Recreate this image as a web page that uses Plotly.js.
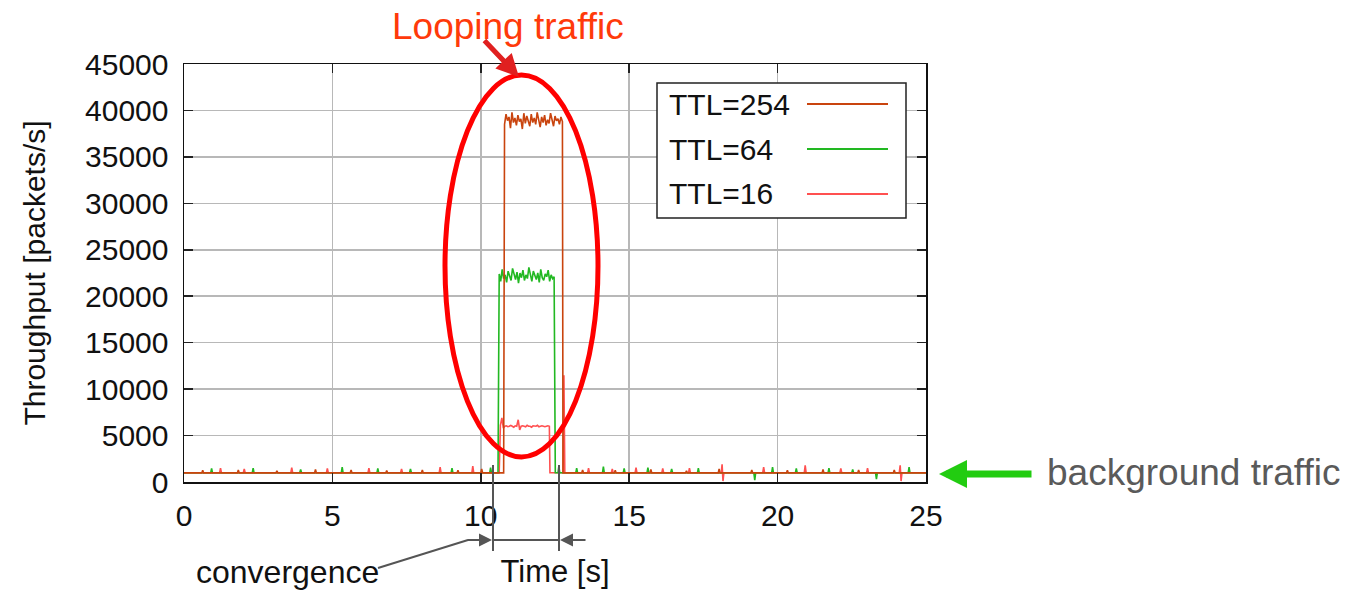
<!DOCTYPE html>
<html>
<head>
<meta charset="utf-8">
<script src="https://cdn.plot.ly/plotly-3.0.1.min.js"></script>
<style>html,body{margin:0;padding:0;background:#fff;}#chart{width:1353px;height:590px;}</style>
</head>
<body>
<div id="chart"></div>
<script>
// ---- data ----
const seriesNames = ['TTL=16', 'TTL=64', 'TTL=254'];
const seriesColors = ['#ff5050', '#22b822', '#c9440e'];

const t254 = [0,0.6,0.63,0.66,1.8,1.83,1.86,3.1,3.13,3.16,4.4,4.43,4.46,5.6,5.63,5.66,6.8,6.83,6.86,8.0,8.03,8.06,9.2,9.23,9.26,10.0,10.03,10.06,10.77,
  10.80,10.85,10.90,10.95,11.00,11.05,11.10,11.15,11.20,11.25,11.30,11.35,11.40,11.45,11.50,11.55,11.60,11.65,11.70,11.75,11.80,11.85,11.90,11.95,12.00,12.05,12.10,12.15,12.20,12.25,12.30,12.35,12.40,12.45,12.50,12.55,12.60,12.65,12.70,12.75,
  12.77,13.4,13.43,13.46,14.5,14.53,14.56,15.7,15.73,15.76,16.9,16.93,16.96,18.0,18.03,18.06,19.1,19.13,19.16,20.3,20.33,20.36,21.5,21.53,21.56,22.7,22.73,22.76,23.9,23.93,23.96,25];
const v254 = [980,980,1250,980,980,1300,980,980,1200,980,980,1350,980,980,1280,980,980,1220,980,980,1300,980,980,1260,980,980,1400,980,980,
  38500,39600,38900,39300,38100,39800,38700,39200,38400,39500,38800,39100,38000,39700,38600,39400,38900,38300,39600,38700,39200,38500,39800,38900,38200,39300,38700,39500,38400,39000,38600,39700,38800,38300,39400,38900,39100,38500,39300,38800,
  980,980,1300,980,980,1250,980,980,1350,980,980,1200,980,980,1400,980,980,1300,980,980,1250,980,980,1350,980,980,1300,980,980,1280,980,980];

const t64 = [0,0.9,0.93,0.96,2.3,2.33,2.36,3.9,3.93,3.96,5.3,5.33,5.36,6.5,6.53,6.56,7.6,7.63,7.66,9.0,9.03,9.06,10.3,10.33,10.36,10.58,
  10.62,10.67,10.72,10.77,10.82,10.87,10.92,10.97,11.02,11.07,11.12,11.17,11.22,11.27,11.32,11.37,11.42,11.47,11.52,11.57,11.62,11.67,11.72,11.77,11.82,11.87,11.92,11.97,12.02,12.07,12.12,12.17,12.22,12.27,12.32,12.37,12.42,12.47,
  12.51,12.6,12.63,12.66,13.2,13.23,13.26,14.1,14.13,14.16,14.8,14.83,14.86,15.6,15.63,15.66,16.4,16.43,16.46,17.3,17.33,17.36,19.2,19.23,19.26,19.8,19.83,19.86,20.6,20.63,20.66,21.7,21.73,21.76,22.5,22.53,22.56,23.3,23.33,23.36,24.4,24.43,24.46,25];
const v64 = [990,990,1450,990,990,1500,990,990,1350,990,990,1600,990,990,1450,990,990,1400,990,990,1500,990,990,1550,990,990,
  22400,21600,22900,21900,22300,21500,22700,22100,21700,23000,22200,21800,22600,21400,22500,22000,22800,21700,22300,21900,23100,22100,21600,22700,22200,21800,22500,21500,22900,22000,21700,22400,22100,22800,21600,22300,21900,22100,
  990,990,1700,990,990,1500,990,990,1650,990,990,1450,990,990,1550,990,990,1400,990,990,1500,990,990,200,990,990,1600,990,990,1450,990,990,1500,990,990,1350,990,990,300,990,990,1600,990,990];

const t16 = [0,1.2,1.23,1.26,2.0,2.03,2.06,3.6,3.63,3.66,4.8,4.83,4.86,6.2,6.23,6.26,7.3,7.33,7.36,8.6,8.63,8.66,9.7,9.73,9.76,10.62,
  10.66,10.71,10.76,10.81,10.86,10.91,10.96,11.01,11.06,11.11,11.16,11.21,11.26,11.31,11.36,11.41,11.46,11.51,11.56,11.61,11.66,11.71,11.76,11.81,11.86,11.91,11.96,12.01,12.06,12.11,12.16,12.21,12.26,12.31,
  12.33,12.77,12.8,12.83,13.6,13.63,13.66,14.4,14.43,14.46,15.2,15.23,15.26,16.1,16.13,16.16,17.0,17.03,17.06,18.1,18.13,18.16,18.19,19.5,19.53,19.56,20.9,20.93,20.96,22.1,22.13,22.16,23.0,23.03,23.06,24.1,24.13,24.16,24.19,25];
const v16 = [1000,1000,1500,1000,1000,1400,1000,1000,1550,1000,1000,1450,1000,1000,1500,1000,1000,1400,1000,1000,1600,1000,1000,1700,1000,1000,
  6100,6900,5800,6000,6050,5950,6000,6100,6000,5900,6050,6000,6700,5600,6000,6050,6000,5950,6100,6000,6000,5900,6050,6000,6000,6100,5950,6000,6050,6000,5950,6000,6050,6000,
  1000,1000,11500,1000,1000,1500,1000,1000,1400,1000,1000,1550,1000,1000,1450,1000,1000,1500,1000,1000,1900,100,1000,1000,1600,1000,1000,1800,1000,1000,1450,1000,1000,1500,1000,1000,1800,100,1000,1000];

const xTicks = [0, 5, 10, 15, 20, 25];
const yTicks = [0, 5000, 10000, 15000, 20000, 25000, 30000, 35000, 40000, 45000];

// ---- figure ----
const FONT = '"Liberation Sans", Arial, Helvetica, sans-serif';
const tList = [t16, t64, t254];
const vList = [v16, v64, v254];
const traces = seriesNames.map((n, i) => ({
  type: 'scatter', mode: 'lines', name: n, x: tList[i], y: vList[i],
  line: {color: seriesColors[i], width: 1.6}, showlegend: false, hoverinfo: 'skip'
}));

// plot area in pixels: x 184..926, y 64..482
const L = 184, R = 926, T = 64, B = 482;
const px = p => (p - L) / (R - L);
const py = p => (B - p) / (B - T);

const shapes = [];
const annotations = [];

// custom legend (text left, line sample right)
shapes.push({type: 'rect', xref: 'paper', yref: 'paper', x0: px(657), x1: px(906), y0: py(218), y1: py(83),
  line: {color: '#222', width: 1.5}, fillcolor: '#fff', layer: 'above'});
const legendOrder = [2, 1, 0];
const legendY = [104, 149, 194];
legendOrder.forEach((idx, k) => {
  annotations.push({xref: 'paper', yref: 'paper', x: px(667), y: py(legendY[k]), xanchor: 'left', yanchor: 'middle',
    text: seriesNames[idx], showarrow: false, font: {family: FONT, size: 30, color: '#111'}});
  shapes.push({type: 'line', xref: 'paper', yref: 'paper', x0: px(807), x1: px(888), y0: py(legendY[k]), y1: py(legendY[k]),
    line: {color: seriesColors[idx], width: 1.8}, layer: 'above'});
});

// red ellipse around the looping traffic
shapes.push({type: 'circle', xref: 'paper', yref: 'paper', x0: px(445), x1: px(598), y0: py(457), y1: py(75),
  line: {color: '#ff0000', width: 5}, layer: 'above'});

// "Looping traffic" label + arrow
annotations.push({xref: 'paper', yref: 'paper', x: px(508), y: py(26), text: 'Looping traffic', showarrow: false,
  xanchor: 'center', yanchor: 'middle', font: {family: FONT, size: 37, color: '#ff3a0a'}});
annotations.push({xref: 'paper', yref: 'paper', x: px(519), y: py(77), ax: -36, ay: -38, text: '', showarrow: true,
  arrowhead: 2, arrowsize: 0.9, arrowwidth: 5, arrowcolor: '#e02020'});

// background traffic arrow + label
annotations.push({xref: 'paper', yref: 'paper', x: px(939), y: py(474), ax: 94, ay: 0, text: '', showarrow: true,
  arrowhead: 2, arrowsize: 0.8, arrowwidth: 7, arrowcolor: '#22cc11'});
annotations.push({xref: 'paper', yref: 'paper', x: px(1045), y: py(472), text: 'background traffic', showarrow: false,
  xanchor: 'left', yanchor: 'middle', font: {family: FONT, size: 37, color: '#5a5a5a'}});

// convergence markers
const gray = '#555555';
shapes.push({type: 'line', xref: 'paper', yref: 'paper', x0: px(493), x1: px(493), y0: py(465), y1: py(551), line: {color: gray, width: 2}, layer: 'above'});
shapes.push({type: 'line', xref: 'paper', yref: 'paper', x0: px(559), x1: px(559), y0: py(465), y1: py(551), line: {color: gray, width: 2}, layer: 'above'});
shapes.push({type: 'line', xref: 'paper', yref: 'paper', x0: px(493), x1: px(559), y0: py(540), y1: py(540), line: {color: gray, width: 2}, layer: 'above'});
shapes.push({type: 'line', xref: 'paper', yref: 'paper', x0: px(378), x1: px(468), y0: py(568), y1: py(540), line: {color: gray, width: 2}, layer: 'above'});
annotations.push({xref: 'paper', yref: 'paper', x: px(492), y: py(540), ax: -26, ay: 0, text: '', showarrow: true,
  arrowhead: 2, arrowsize: 1.3, arrowwidth: 2, arrowcolor: gray});
annotations.push({xref: 'paper', yref: 'paper', x: px(560), y: py(540), ax: 27, ay: 0, text: '', showarrow: true,
  arrowhead: 2, arrowsize: 1.3, arrowwidth: 2, arrowcolor: gray});
annotations.push({xref: 'paper', yref: 'paper', x: px(287), y: py(572), text: 'convergence', showarrow: false,
  xanchor: 'center', yanchor: 'middle', font: {family: FONT, size: 32, color: '#111'}});

const axisCommon = {
  showgrid: true, gridcolor: '#b8b8b8', gridwidth: 1.5,
  showline: true, linecolor: '#111', linewidth: 1.5, mirror: 'ticks',
  ticks: 'inside', ticklen: 9, tickcolor: '#222', tickwidth: 1.5,
  zeroline: false, tickfont: {family: FONT, size: 30, color: '#111'}
};

const layout = {
  width: 1353, height: 590,
  margin: {l: L, r: 1353 - R, t: T, b: 590 - B, pad: 0},
  paper_bgcolor: '#fff', plot_bgcolor: '#fff',
  font: {family: FONT},
  showlegend: false,
  xaxis: Object.assign({}, axisCommon, {
    range: [0, 25], tickmode: 'array', tickvals: xTicks, ticktext: xTicks.map(String),
    ticklabelstandoff: 6,
    title: {text: 'Time [s]', font: {family: FONT, size: 31, color: '#111'}, standoff: 30}
  }),
  yaxis: Object.assign({}, axisCommon, {
    range: [0, 45000], tickmode: 'array', tickvals: yTicks, ticktext: yTicks.map(String),
    ticklabelstandoff: 8,
    title: {text: 'Throughput [packets/s]', font: {family: FONT, size: 30, color: '#111'}, standoff: 30}
  }),
  shapes: shapes, annotations: annotations
};

Plotly.newPlot('chart', traces, layout, {staticPlot: true, displayModeBar: false});
</script>
</body>
</html>
